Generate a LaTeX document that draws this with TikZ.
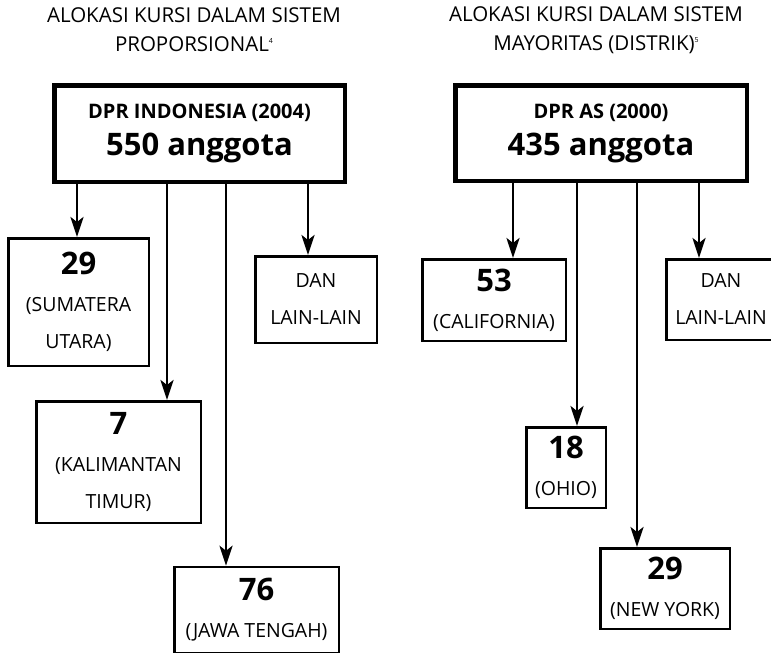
\documentclass[tikz,border=0pt]{standalone}
\usepackage{fontspec}
\setmainfont{Open Sans}
\usetikzlibrary{arrows.meta}

\newcommand{\angka}[1]{{\fontsize{31}{37}\selectfont\bfseries #1}}
\newcommand{\lembaga}[1]{{\fontsize{20}{37}\selectfont\bfseries #1}}
\newcommand{\catatan}[1]{\raisebox{0.75ex}{\fontsize{7}{8}\selectfont #1}}

\begin{document}
\begin{tikzpicture}[
        x=1pt, y=-1pt,
        every node/.style={font=\fontsize{19.5}{37}\selectfont, align=center},
        judul/.style={font=\fontsize{20.5}{29}\selectfont, inner sep=0pt},
        induk/.style={draw, line width=4.5pt, inner sep=0pt},
        cabang/.style={draw, line width=2.5pt, inner sep=0pt},
        panah/.style={-{Stealth[length=20pt, width=13pt, inset=5pt]}, line width=2.6pt}
    ]
    \useasboundingbox (0,0) rectangle (771,653);

    % Judul
    \node[judul] (judul1) at (194,30) {ALOKASI KURSI DALAM SISTEM\\PROPORSIONAL\catatan{4}};
    \node[judul] (judul2) at (596,30) {ALOKASI KURSI DALAM SISTEM\\MAYORITAS (DISTRIK)\catatan{5}};

    % Sistem proporsional
    \node[induk, minimum width=290.5pt, minimum height=96.5pt] (induk1) at (199.5,133.5)
        {\lembaga{DPR INDONESIA (2004)}\\\angka{550 anggota}};
    \node[cabang, minimum width=140.5pt, minimum height=127.5pt] (sumut) at (78.5,302)
        {\angka{29}\\(SUMATERA\\UTARA)};
    \node[cabang, minimum width=164.5pt, minimum height=121.5pt] (kaltim) at (118.5,462)
        {\angka{7}\\(KALIMANTAN\\TIMUR)};
    \node[cabang, minimum width=164.5pt, minimum height=86pt] (jateng) at (256.5,610)
        {\angka{76}\\(JAWA TENGAH)};
    \node[cabang, minimum width=121.5pt, minimum height=86.5pt] (lain1) at (316,299.5)
        {DAN\\LAIN-LAIN};

    % Sistem mayoritas
    \node[induk, minimum width=291.5pt, minimum height=95.5pt] (induk2) at (601,133)
        {\lembaga{DPR AS (2000)}\\\angka{435 anggota}};
    \node[cabang, minimum width=143.5pt, minimum height=81.5pt] (calif) at (494,300)
        {\angka{53}\\(CALIFORNIA)};
    \node[cabang, minimum width=79.5pt, minimum height=80.5pt] (ohio) at (566,467.5)
        {\angka{18}\\(OHIO)};
    \node[cabang, minimum width=129.5pt, minimum height=80.5pt] (ny) at (665,588.5)
        {\angka{29}\\(NEW YORK)};
    \node[cabang, minimum width=109.5pt, minimum height=80.5pt] (lain2) at (721,299.5)
        {DAN\\LAIN-LAIN};

    % Panah
    \draw[panah] (induk1.south -| 77,0) -- (sumut.north -| 77,0);
    \draw[panah] (induk1.south -| 167,0) -- (kaltim.north -| 167,0);
    \draw[panah] (induk1.south -| 226,0) -- (jateng.north -| 226,0);
    \draw[panah] (induk1.south -| 308,0) -- (lain1.north -| 308,0);

    \draw[panah] (induk2.south -| 513,0) -- (calif.north -| 513,0);
    \draw[panah] (induk2.south -| 577,0) -- (ohio.north -| 577,0);
    \draw[panah] (induk2.south -| 637,0) -- (ny.north -| 637,0);
    \draw[panah] (induk2.south -| 699,0) -- (lain2.north -| 699,0);
\end{tikzpicture}
\end{document}
